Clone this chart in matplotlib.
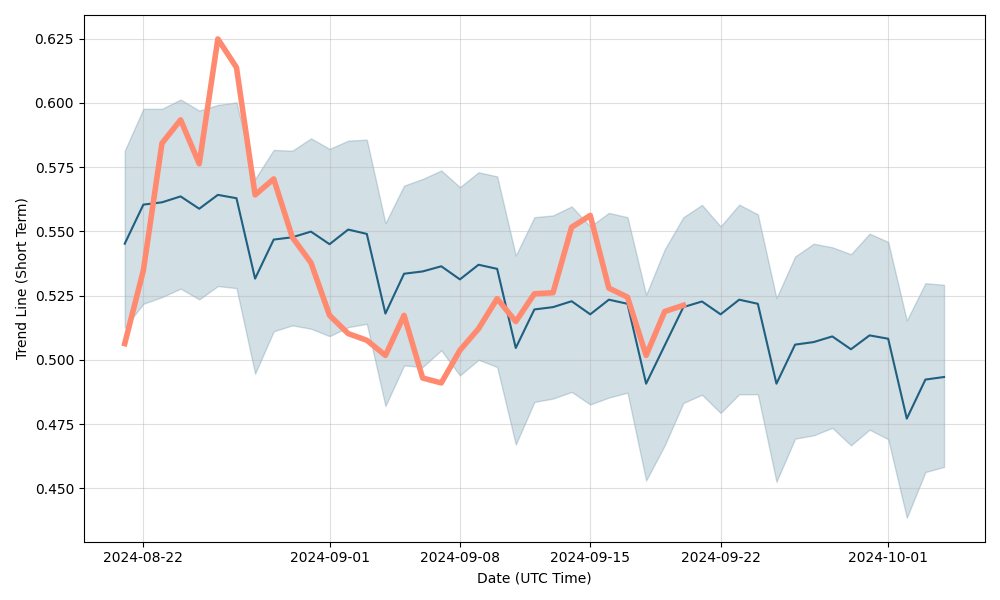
import numpy as np
import pandas as pd
import matplotlib
matplotlib.use("Agg")
import matplotlib.pyplot as plt

# daily dates, 2024-08-21 .. 2024-10-04
dates = pd.date_range("2024-08-21", "2024-10-04", freq="D")

# short-term trend line (mid)
trend = [
    0.5452, 0.5604, 0.5613, 0.5636, 0.5588, 0.5642, 0.5629, 0.5316, 0.5468, 0.5477,
    0.5499, 0.5450, 0.5507, 0.5490, 0.5180, 0.5335, 0.5344, 0.5364, 0.5313, 0.5370,
    0.5354, 0.5046, 0.5196, 0.5205, 0.5228, 0.5177, 0.5234, 0.5218, 0.4907, 0.5056,
    0.5205, 0.5227, 0.5177, 0.5234, 0.5218, 0.4907, 0.5059, 0.5069, 0.5091, 0.5041,
    0.5095, 0.5082, 0.4771, 0.4923, 0.4933,
]

# band bounds
upper = [
    0.5814, 0.5977, 0.5977, 0.6013, 0.5970, 0.5992, 0.6002, 0.5704, 0.5817, 0.5814,
    0.5862, 0.5821, 0.5853, 0.5857, 0.5532, 0.5678, 0.5704, 0.5737, 0.5672, 0.5730,
    0.5714, 0.5406, 0.5555, 0.5562, 0.5597, 0.5519, 0.5572, 0.5555, 0.5253, 0.5430,
    0.5555, 0.5603, 0.5519, 0.5604, 0.5566, 0.5240, 0.5402, 0.5452, 0.5438, 0.5411,
    0.5491, 0.5459, 0.5153, 0.5298, 0.5292,
]
lower = [
    0.5125, 0.5218, 0.5244, 0.5277, 0.5235, 0.5287, 0.5279, 0.4946, 0.5111, 0.5134,
    0.5121, 0.5092, 0.5127, 0.5140, 0.4820, 0.4978, 0.4972, 0.5037, 0.4939, 0.5000,
    0.4972, 0.4670, 0.4836, 0.4849, 0.4875, 0.4826, 0.4853, 0.4872, 0.4530, 0.4667,
    0.4832, 0.4864, 0.4793, 0.4866, 0.4866, 0.4525, 0.4693, 0.4706, 0.4735, 0.4667,
    0.4728, 0.4691, 0.4385, 0.4563, 0.4583,
]

# actual values (only up to 2024-09-20)
actual = [
    0.5063, 0.5348, 0.5843, 0.5934, 0.5763, 0.6249, 0.6138, 0.5642, 0.5704, 0.5477,
    0.5378, 0.5173, 0.5102, 0.5076, 0.5017, 0.5173, 0.4929, 0.4910, 0.5037, 0.5121,
    0.5238, 0.5149, 0.5257, 0.5261, 0.5516, 0.5562, 0.5279, 0.5244, 0.5017, 0.5188,
    0.5212,
]

dark = "#1f5f7f"
salmon = "#ff8a70"

fig, ax = plt.subplots(figsize=(10, 6), dpi=100)
ax.fill_between(dates, lower, upper, color=dark, alpha=0.2, linewidth=1)
ax.plot(dates, trend, color=dark, linewidth=1.5)
ax.plot(dates[:len(actual)], actual, color=salmon, linewidth=4)

ax.grid(True, color="#b0b0b0", alpha=0.4)
ax.set_xlabel("Date (UTC Time)")
ax.set_ylabel("Trend Line (Short Term)")
ax.set_xticks(pd.to_datetime(["2024-08-22", "2024-09-01", "2024-09-08",
                              "2024-09-15", "2024-09-22", "2024-10-01"]))
ax.xaxis.set_major_formatter(matplotlib.dates.DateFormatter("%Y-%m-%d"))

fig.tight_layout()
fig.savefig("out.png", dpi=100)
